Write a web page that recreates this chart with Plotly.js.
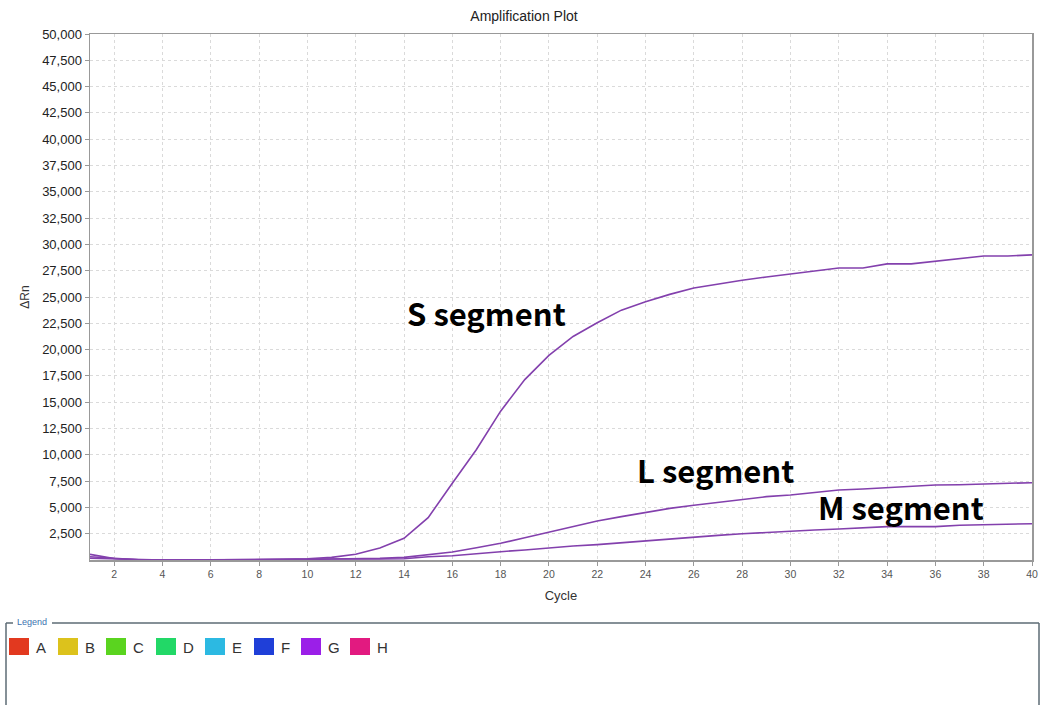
<!DOCTYPE html>
<html>
<head>
<meta charset="utf-8">
<script src="https://cdn.plot.ly/plotly-3.0.1.min.js"></script>
<style>
  html, body { margin: 0; padding: 0; background: #ffffff; }
  #chart { width: 1048px; height: 705px; }
</style>
</head>
<body>
<div id="chart"></div>
<script>
// ---- data ----
const cycles = [1,2,3,4,5,6,7,8,9,10,11,12,13,14,15,16,17,18,19,20,21,22,23,24,25,26,27,28,29,30,31,32,33,34,35,36,37,38,39,40];
const sSegment = [540,140,30,0,0,0,0,0,60,120,250,540,1150,2060,4020,7300,10500,14150,17150,19450,21250,22550,23750,24550,25250,25850,26250,26600,26900,27200,27500,27750,27750,28150,28150,28400,28600,28900,28900,29000];
const lSegment = [310,140,30,0,0,0,0,0,30,60,100,100,150,250,475,760,1170,1590,2120,2660,3200,3700,4120,4530,4910,5200,5480,5770,6020,6180,6430,6650,6750,6870,7000,7130,7160,7200,7250,7350];
const mSegment = [160,100,20,0,0,0,0,0,30,60,100,80,100,120,310,410,630,790,950,1170,1330,1460,1650,1840,2030,2190,2340,2500,2630,2790,2850,2950,3040,3170,3170,3170,3300,3360,3420,3450];
const seriesNames = ["S segment", "L segment", "M segment"];
const labelCycles = [14.05, 23.55, 31.05];
const labelValues = [23480, 8650, 5130];

const yTickVals = [2500,5000,7500,10000,12500,15000,17500,20000,22500,25000,27500,30000,32500,35000,37500,40000,42500,45000,47500,50000];
const yTickText = ["2,500","5,000","7,500","10,000","12,500","15,000","17,500","20,000","22,500","25,000","27,500","30,000","32,500","35,000","37,500","40,000","42,500","45,000","47,500","50,000"];
const xTickVals = [2,4,6,8,10,12,14,16,18,20,22,24,26,28,30,32,34,36,38,40];

const legendLabels = ["A","B","C","D","E","F","G","H"];
const legendColors = ["#e2391f","#dcc21c","#5ad41f","#22d867","#2cb9e2","#1f3fd8","#9b1fe8","#e21a80"];
const legendSwatchX = [9,58,106,156,205,254,301,350];

// ---- layout helpers (pixel -> paper) ----
const PL = 90, PR = 1032, PT = 34, PB = 560;
const px = v => (v - PL) / (PR - PL);
const py = v => (PB - v) / (PB - PT);

const lineColor = "#8340ad";
const traces = [sSegment, lSegment, mSegment].map((vals, i) => ({
  x: cycles, y: vals, type: "scatter", mode: "lines", name: seriesNames[i],
  line: { color: lineColor, width: 1.6 }, showlegend: false, hoverinfo: "skip"
}));

const shapes = [];
const annotations = [];

// segment labels
seriesNames.forEach((n, i) => {
  annotations.push({
    x: labelCycles[i], y: labelValues[i], xref: "x", yref: "y",
    text: "<b>" + n + "</b>", showarrow: false, xanchor: "left", yanchor: "middle",
    font: { family: "Noto Sans CJK KR, Noto Sans, sans-serif", size: 31, color: "#000" }
  });
});

// legend frame
const frameColor = "#5d6b74";
shapes.push({ type: "line", xref: "paper", yref: "paper", x0: px(6), x1: px(13), y0: py(623), y1: py(623), line: { color: frameColor, width: 1.5 } });
shapes.push({ type: "line", xref: "paper", yref: "paper", x0: px(52), x1: px(1039), y0: py(623), y1: py(623), line: { color: frameColor, width: 1.5 } });
shapes.push({ type: "line", xref: "paper", yref: "paper", x0: px(6), x1: px(6), y0: py(623), y1: py(706), line: { color: frameColor, width: 1.5 } });
shapes.push({ type: "line", xref: "paper", yref: "paper", x0: px(1039), x1: px(1039), y0: py(623), y1: py(706), line: { color: frameColor, width: 1.5 } });
annotations.push({
  x: px(15), y: py(622), xref: "paper", yref: "paper", text: "Legend", showarrow: false,
  xanchor: "left", yanchor: "middle", font: { family: "Liberation Sans, Arial, sans-serif", size: 9, color: "#3d73b0" }
});

legendLabels.forEach((lab, i) => {
  const x0 = legendSwatchX[i];
  shapes.push({ type: "rect", xref: "paper", yref: "paper", x0: px(x0), x1: px(x0 + 20), y0: py(638), y1: py(655),
    fillcolor: legendColors[i], line: { width: 0 } });
  annotations.push({
    x: px(x0 + 25), y: py(647), xref: "paper", yref: "paper", text: lab, showarrow: false,
    xanchor: "left", yanchor: "middle", font: { family: "Liberation Sans, Arial, sans-serif", size: 15, color: "#333" }
  });
});

const layout = {
  width: 1048, height: 705,
  margin: { l: PL, r: 1048 - PR, t: PT, b: 705 - PB, pad: 0 },
  paper_bgcolor: "#ffffff", plot_bgcolor: "#ffffff",
  title: { text: "Amplification Plot", x: 0.5, xref: "container", xanchor: "center",
    y: 1 - 16 / 705, yref: "container", yanchor: "middle",
    font: { family: "Liberation Sans, Arial, sans-serif", size: 14, color: "#222" } },
  xaxis: {
    range: [1, 40], tickvals: xTickVals, ticks: "outside", ticklen: 4, tickcolor: "#999",
    showline: true, linecolor: "#999", linewidth: 1.5, mirror: true,
    showgrid: true, gridcolor: "#dadada", griddash: "dot", gridwidth: 1, zeroline: false,
    tickfont: { family: "Liberation Sans, Arial, sans-serif", size: 10.5, color: "#555" },
    title: { text: "Cycle", standoff: 12, font: { family: "Liberation Sans, Arial, sans-serif", size: 13, color: "#333" } },
    automargin: false, fixedrange: true
  },
  yaxis: {
    range: [0, 50000], tickvals: yTickVals, ticktext: yTickText, ticks: "outside", ticklen: 4, tickcolor: "#999",
    showline: true, linecolor: "#999", linewidth: 1.5, mirror: true,
    showgrid: true, gridcolor: "#dadada", griddash: "dot", gridwidth: 1, zeroline: false,
    tickfont: { family: "Liberation Sans, Arial, sans-serif", size: 13, color: "#222" },
    title: { text: "ΔRn", standoff: 10, font: { family: "Liberation Sans, Arial, sans-serif", size: 12, color: "#333" } },
    automargin: false, fixedrange: true
  },
  shapes: shapes,
  annotations: annotations,
  showlegend: false
};

Plotly.newPlot("chart", traces, layout, { displayModeBar: false, staticPlot: true });
</script>
</body>
</html>
